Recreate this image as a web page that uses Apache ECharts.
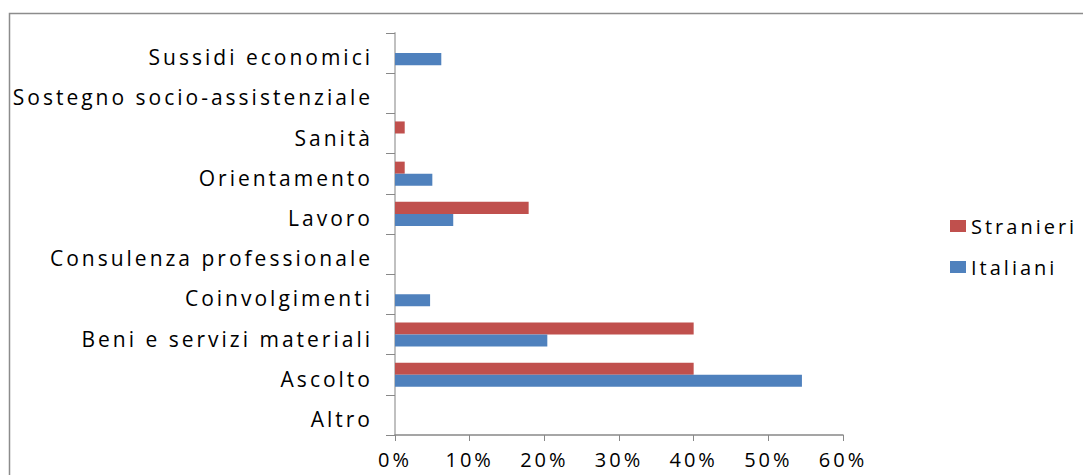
<!DOCTYPE html>
<html><head><meta charset="utf-8">
<script src="https://cdn.jsdelivr.net/npm/echarts@6/dist/echarts.min.js"></script>
<style>html,body{margin:0;padding:0;background:#fff}#c{width:1083px;height:475px}#c text{letter-spacing:3px}</style>
</head><body><div id="c"></div>
<script>
var categories = ['Altro','Ascolto','Beni e servizi materiali','Coinvolgimenti','Consulenza professionale','Lavoro','Orientamento','Sanità','Sostegno socio-assistenziale','Sussidi economici'];
var italiani = [0, 54.5, 20.4, 4.7, 0, 7.8, 5.0, 0, 0, 6.2];
var stranieri = [0, 40.0, 40.0, 0, 0, 17.9, 1.3, 1.3, 0, 0];
var xTicks = [0, 10, 20, 30, 40, 50, 60];

var chart = echarts.init(document.getElementById('c'), null, {renderer: 'svg'});
chart.setOption({
  animation: false,
  graphic: [{type:'rect', shape:{x:9.5,y:13.5,width:1100,height:500}, style:{fill:'none', stroke:'#8c8c8c', lineWidth:1.5}, silent:true}],
  grid: {left: 395, top: 33, width: 448, height: 402, containLabel: false},
  legend: {
    data: ['Stranieri','Italiani'], orient: 'vertical', left: 945, top: 211,
    icon: 'rect', itemWidth: 16, itemHeight: 12, itemGap: 21,
    textStyle: {fontFamily: 'Open Sans', fontSize: 20, color: '#000'}
  },
  xAxis: {
    type: 'value', min: xTicks[0], max: xTicks[xTicks.length-1], interval: 10,
    axisLine: {show: true, lineStyle: {color: '#888', width: 1.5}},
    axisTick: {show: true, length: 6, lineStyle: {color: '#888'}},
    splitLine: {show: false},
    axisLabel: {formatter: '{value}%', fontFamily: 'Open Sans', fontSize: 20, lineHeight: 20, color: '#000', margin: 14}
  },
  yAxis: {
    type: 'category', data: categories,
    axisLine: {show: true, lineStyle: {color: '#c0c0c0', width: 2}},
    axisTick: {show: true, length: 9, lineStyle: {color: '#888'}},
    axisLabel: {
      formatter: '{a|{value}}', margin: 22,
      rich: {a: {fontFamily: 'Open Sans', fontSize: 21, color: '#000', padding: [8,0,0,0]}}
    }
  },
  series: [
    {name: 'Stranieri', type: 'bar', data: stranieri, itemStyle: {color: '#c0504d'}, barGap: '0%', barCategoryGap: '40%'},
    {name: 'Italiani', type: 'bar', data: italiani, itemStyle: {color: '#4f81bd'}, barGap: '0%', barCategoryGap: '40%'}
  ]
});
</script></body></html>
